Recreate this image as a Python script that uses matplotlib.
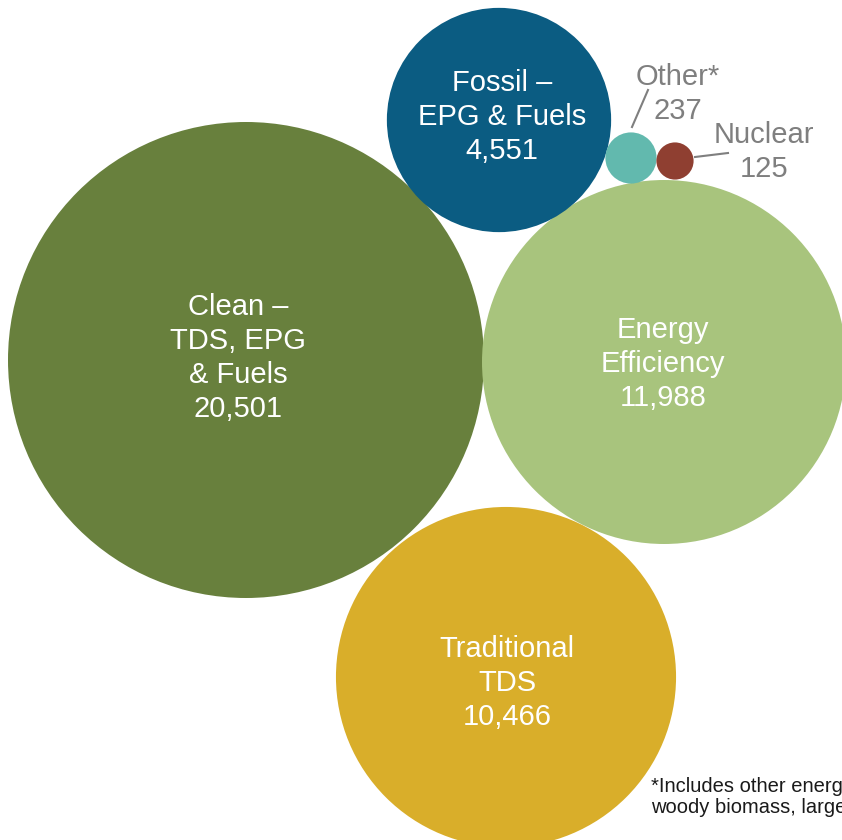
import numpy as np
import matplotlib.pyplot as plt
from matplotlib.patches import Circle

plt.rcParams['font.family'] = ['Liberation Sans', 'DejaVu Sans']

# data
labels = ['Clean –\nTDS, EPG\n& Fuels', 'Energy\nEfficiency', 'Traditional\nTDS',
          'Fossil –\nEPG & Fuels', 'Other*', 'Nuclear']
values = [20501, 11988, 10466, 4551, 237, 125]
colors = ['#68803d', '#a8c47d', '#d9ae2a', '#0b5c82', '#62b9ae', '#8f3f31']

# layout (pixel coords, y down)
centers = [(246, 360), (664, 362), (506, 677), (499, 120), (631, 158), (675, 161)]
k = 238 / np.sqrt(max(values))

fig = plt.figure(figsize=(8.42, 8.40), dpi=100)
ax = fig.add_axes([0, 0, 1, 1])
ax.set_xlim(0, 842)
ax.set_ylim(840, 0)
ax.set_aspect('equal')
ax.axis('off')

for i in range(len(values)):
    r = k * np.sqrt(values[i])
    ax.add_patch(Circle(centers[i], r, facecolor=colors[i], edgecolor='none'))

fs = 21
ls = 1.26

# labels inside the big circles
text_pos = [(238, 358), (663, 364), (507, 683), (502, 117)]
for i in range(4):
    ax.text(text_pos[i][0], text_pos[i][1], labels[i] + '\n' + format(values[i], ','),
            color='white', fontsize=fs, ha='center', va='center', linespacing=ls)

# small circles get outside labels with leader lines
gray = '#7f7f7f'
ax.text(678, 94, labels[4] + '\n' + str(values[4]), color=gray, fontsize=fs,
        ha='center', va='center', linespacing=ls)
ax.plot([648, 632], [90, 127], color=gray, lw=1.5)
ax.text(764, 152, labels[5] + '\n' + str(values[5]), color=gray, fontsize=fs,
        ha='center', va='center', linespacing=ls)
ax.plot([695, 728], [157, 153], color=gray, lw=1.5)

ax.text(651, 797, '*Includes other energy sources such as\nwoody biomass, large hydro',
        color='#1a1a1a', fontsize=14.5, ha='left', va='center', linespacing=1.1)

plt.savefig('out.png', dpi=100)
